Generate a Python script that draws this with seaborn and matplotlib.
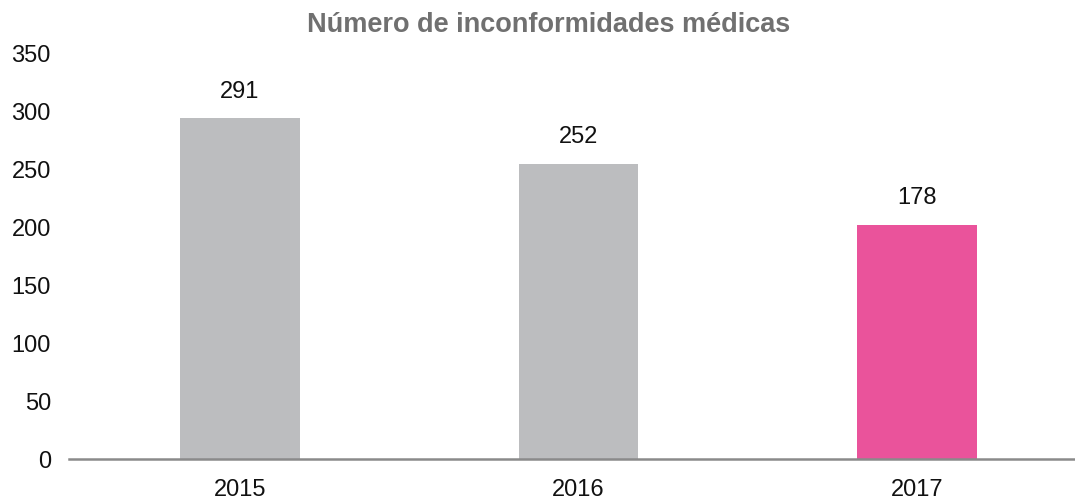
import matplotlib
matplotlib.use("Agg")
import matplotlib.pyplot as plt
import pandas as pd
import seaborn as sns

years = ["2015", "2016", "2017"]
bar_heights = [293, 254, 201]
bar_labels = ["291", "252", "178"]
bar_colors = ["#bcbdbf", "#bcbdbf", "#ea539b"]

df = pd.DataFrame({"year": years, "value": bar_heights})

sns.set_style("white")
plt.rcParams["font.family"] = ["Liberation Sans", "DejaVu Sans"]

fig = plt.figure(figsize=(10.75, 5.02), dpi=100)
ax = fig.add_axes([69 / 1075, 1 - 460 / 502, 1006 / 1075, 407 / 502])

sns.barplot(data=df, x="year", y="value", hue="year", palette=bar_colors,
            legend=False, width=0.354, saturation=1, linewidth=0, ax=ax)

for i, lab in enumerate(bar_labels):
    ax.annotate(lab, (i, bar_heights[i]), xytext=(0, 20), textcoords="offset points",
                ha="center", va="center", fontsize=17, color="#111111")

ax.set_xlim(-0.505, 2.467)
ax.set_ylim(0, 350)
ax.set_yticks(range(0, 351, 50))
ax.set_xlabel("")
ax.set_ylabel("")
ax.tick_params(axis="both", length=0, labelsize=17, colors="#111111")
ax.tick_params(axis="y", pad=13)
ax.tick_params(axis="x", pad=14)
for s in ["top", "right", "left"]:
    ax.spines[s].set_visible(False)
ax.spines["bottom"].set_color("#8a8a8a")
ax.spines["bottom"].set_linewidth(1.8)

fig.text(549 / 1075, 1 - 25 / 502, "Número de inconformidades médicas", ha="center",
         va="center", fontsize=19.5, fontweight="bold", color="#707070")

fig.savefig("out.png", dpi=100)
